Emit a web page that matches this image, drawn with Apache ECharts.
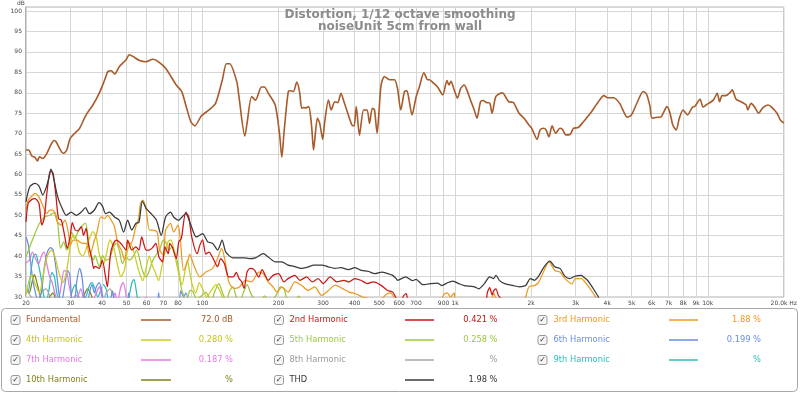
<!DOCTYPE html>
<html><head><meta charset="utf-8">
<script src="https://cdn.jsdelivr.net/npm/echarts@6/dist/echarts.min.js"></script>
<style>html,body{margin:0;padding:0;background:#fff}#c{width:800px;height:393px}</style>
</head><body><div id="c"></div>
<script>
// ---------- DATA ----------
const titleLines = ['Distortion, 1/12 octave smoothing', 'noiseUnit 5cm from wall'];
const yTicks = [30,35,40,45,50,55,60,65,70,75,80,85,90,95,100];
const xGridLines = [20,30,40,50,60,70,80,90,100,200,300,400,500,600,700,800,900,1000,2000,3000,4000,5000,6000,7000,8000,9000,10000];
const xLabelValues = [20,30,40,50,60,70,80,100,200,300,400,500,600,700,900,1000,2000,3000,4000,5000,6000,7000,8000,9000,10000,20000];
const xLabelTexts = ['20','30','40','50','60','70','80','100','200','300','400','500','600','700','900','1k','2k','3k','4k','5k','6k','7k','8k','9k','10k','20.0k Hz'];

const fundamental = [[20,66.0],[20.5,66.0],[21.1,64.5],[21.7,64.2],[22.2,63.3],[22.6,64.3],[23.3,63.9],[24.1,65.0],[25.2,67.5],[25.8,68.3],[26.3,68.0],[27.6,65.6],[28.2,65.2],[29.0,66.0],[29.9,68.8],[31.2,70.1],[32.6,71.3],[34.6,74.6],[36.8,77.0],[39.0,79.9],[41.0,83.2],[42.2,85.2],[43.5,85.4],[44.9,84.6],[46.8,86.4],[49.8,88.1],[51.3,89.3],[53.0,88.9],[56.2,87.9],[59.7,87.6],[63.5,88.2],[66.1,87.8],[71.4,86.0],[78.7,81.9],[82.7,80.3],[85.8,77.0],[89.9,72.9],[93.2,71.9],[98.8,74.3],[106,75.8],[112.6,77.4],[119.8,83.2],[124.3,87.1],[128,87.1],[136.5,82.8],[139.3,79.1],[147,69.4],[150,72.5],[156.5,79.1],[162,78.2],[171,81.4],[175.8,81.4],[182,79.9],[193.9,77.0],[201.6,70.1],[206,64.2],[210,70.1],[218.5,80.3],[224,80.5],[229,80.3],[236,82.6],[242,80.3],[247,76.2],[251,76.4],[256,76.3],[263,76.6],[270,72.1],[275,66.0],[278,68.4],[285,73.8],[291,72.5],[299,68.6],[304,72.5],[315,78.2],[323,75.8],[334,77.8],[343,77.6],[353,79.9],[363,77.8],[390,72.1],[398,71.9],[406,76.6],[418,69.6],[434,75.8],[448,75.8],[458,72.5],[470,76.2],[479,75.9],[491,70.1],[499,75.0],[509,81.9],[525,84.0],[550,83.2],[575,83.2],[591,81.1],[609,75.8],[630,80.3],[644,80.5],[657,78.2],[675,74.6],[701,79.1],[722,81.5],[752,84.9],[778,83.2],[790,83.2],[823,82.3],[852,81.4],[893,79.5],[928,83.0],[945,81.9],[963,82.8],[991,80.7],[1021,78.7],[1052,81.1],[1086,81.9],[1117,80.4],[1150,78.2],[1190,75.8],[1220,73.8],[1260,77.8],[1290,78.1],[1330,77.6],[1370,77.5],[1400,75.0],[1450,79.1],[1540,80.0],[1580,79.1],[1630,77.8],[1700,77.6],[1790,75.0],[1870,73.8],[1960,72.1],[2010,71.3],[2110,68.6],[2170,70.9],[2240,71.3],[2290,70.9],[2350,69.2],[2420,71.9],[2500,70.1],[2600,71.3],[2660,71.0],[2740,69.7],[2850,69.8],[2940,71.3],[3070,71.5],[3220,72.9],[3340,74.1],[3460,75.3],[3690,77.8],[3880,79.3],[4020,78.8],[4240,78.8],[4480,77.4],[4810,74.0],[4990,74.6],[5270,77.8],[5550,80.3],[5720,79.7],[5900,76.8],[6020,73.8],[6350,74.0],[6530,74.1],[6900,76.6],[7090,75.0],[7270,72.1],[7500,70.9],[7720,73.8],[7980,75.8],[8320,74.6],[8680,76.4],[8900,76.7],[9320,78.4],[9580,76.5],[9840,77.0],[10520,78.2],[10900,79.9],[11140,77.8],[11390,79.3],[11800,79.3],[12340,80.3],[12500,80.7],[12950,78.4],[13550,77.8],[14200,77.0],[14400,75.8],[14850,77.4],[15300,76.6],[15900,75.0],[16500,76.3],[17300,77.0],[17800,76.6],[18800,75.0],[19400,73.3],[20000,72.6]];

const thd = [[20,53.3],[20.7,57.0],[21.7,57.8],[22.5,57.2],[23.3,55.0],[24.1,57.0],[24.7,59.4],[25.1,61.3],[25.6,59.8],[26.7,54.5],[28.0,51.3],[28.9,50.0],[30.2,50.8],[31.6,50.0],[33.1,50.8],[34.4,51.9],[35.6,50.4],[37.3,51.3],[38.9,53.1],[40.2,52.2],[41.3,50.4],[42.8,50.8],[44.8,49.6],[46.8,48.8],[48.7,45.9],[50.5,48.8],[52.5,46.4],[54.4,48.0],[56,48.3],[57.8,53.5],[59.8,51.7],[62.6,50.4],[65.7,48.8],[68.6,45.1],[71.4,49.6],[74.7,50.8],[76.8,49.6],[80.5,48.8],[82.9,49.6],[85.8,50.4],[89.9,47.6],[94.5,44.7],[100,45.5],[104.8,43.5],[109.7,43.1],[114.8,41.5],[119.5,43.9],[123.6,41.0],[131.8,39.6],[139,39.6],[146,39.6],[153,39.4],[162,39.6],[174,40.6],[182,39.8],[194,38.6],[206,38.6],[218,37.8],[230,37.5],[246,37.0],[260,37.3],[276,37.8],[297,37.8],[314,37.4],[334,37.0],[353,37.2],[378,36.7],[401,37.2],[426,36.5],[452,36.3],[481,35.7],[512,36.1],[543,35.7],[566,35.3],[584,34.5],[591,34.1],[637,34.9],[678,34.0],[700,34.3],[745,33.0],[788,33.2],[850,33.4],[885,32.8],[932,33.5],[978,33.9],[1040,33.2],[1086,32.8],[1190,32.5],[1240,32.0],[1303,33.2],[1370,34.9],[1420,34.5],[1450,35.3],[1500,34.0],[1580,33.2],[1700,32.8],[1790,32.5],[1900,32.8],[1985,34.5],[2060,34.1],[2140,35.1],[2250,37.4],[2370,38.8],[2480,37.4],[2600,37.0],[2720,35.1],[2840,34.5],[2990,35.1],[3160,35.3],[3220,34.9],[3340,34.1],[3460,32.8],[3560,31.6],[3690,30.0],[3760,28.8],[3800,25]];

const h2 = [[20,48.4],[20.4,52.9],[21.1,53.9],[21.7,54.1],[22.5,52.9],[22.8,50.0],[23.1,47.6],[23.6,49.2],[24.1,54.5],[24.7,59.8],[25.1,60.8],[25.6,60.3],[26.3,54.5],[26.9,49.2],[27.6,48.8],[28.5,44.7],[29.1,41.9],[29.9,44.7],[30.5,48.2],[31.3,46.4],[32,46.2],[33.1,47.2],[33.8,45.1],[34.6,46.8],[35.3,43.1],[36.3,39.8],[37.1,37.0],[37.5,37.5],[39,37.0],[40.1,39.0],[41.3,34.9],[42,32.5],[42.8,38.0],[43.5,41.5],[45.5,43.9],[47.5,43.1],[49.8,41.5],[50.5,43.9],[52.5,41.5],[54.4,42.3],[56,41.5],[57.4,44.7],[59.8,41.5],[61.4,41.5],[63.4,42.1],[65.3,43.1],[67.2,39.8],[69.4,38.6],[70.9,42.3],[73.2,40.6],[74.1,43.1],[75.8,42.3],[78.7,39.4],[80.5,43.5],[82.4,44.3],[85.8,50.8],[88.2,49.6],[90.6,44.7],[95.2,40.6],[97.6,42.7],[100,44.0],[103,40.5],[106,41.0],[110,39.5],[114.6,37.4],[118,39.4],[122,38.2],[124,36.5],[127,34.9],[132,34.9],[136,36.0],[139.5,34.5],[143,33.7],[146,32.1],[150,36.1],[154,37.0],[160,36.7],[167,34.9],[172,36.7],[182,34.1],[190,35.3],[200,35.7],[210,33.7],[218,34.5],[232,35.3],[243,34.1],[258,34.9],[272,33.7],[287,34.5],[300,33.3],[320,34.9],[340,33.7],[363,34.1],[380,33.7],[400,34.5],[423,34.1],[450,33.3],[475,33.7],[508,32.9],[540,31.6],[566,31.2],[585,29.6],[600,28],[625,30.3],[640,30.8],[655,28],[700,26],[1300,26],[1340,31],[1370,32.3],[1400,30.5],[1420,31.5],[1450,32.0],[1480,30.5],[1520,29.5],[1560,27]];

const h3 = [[20,51.3],[20.4,53.7],[21.1,54.7],[21.7,55.4],[22.5,54.5],[23.4,52.1],[24.1,50.4],[24.9,51.3],[25.6,51.3],[26.6,48.4],[27.6,47.6],[28.5,48.8],[29.3,46.4],[30,42.7],[30.7,43.9],[31.9,43.9],[32.6,43.5],[33.6,43.1],[34.7,43.1],[35.7,39.8],[37,43.1],[38.2,45.9],[39.6,49.6],[40.9,49.2],[42.1,50.0],[43.5,48.8],[44.8,47.2],[46.2,43.1],[47.7,41.5],[49.2,39.0],[50.5,43.5],[52.1,43.1],[54.4,47.2],[55.8,49.2],[56.8,52.9],[58.1,53.7],[59.8,51.3],[61.6,46.4],[63.4,46.4],[66.1,45.9],[67.6,41.5],[69.9,40.3],[71.4,46.4],[74.7,48.0],[76.8,45.9],[80,47.6],[81.7,43.9],[84.1,36.5],[87.6,39.0],[88.9,40.5],[92.3,37.8],[97.6,34.9],[100,35.3],[103,36.1],[109.7,37.0],[114.6,39.4],[119,41.9],[123,38.6],[127,33.7],[133,32.1],[139,32.3],[148,34.1],[156,33.7],[167,36.1],[174,35.7],[182,33.7],[190,32.5],[197,31.2],[206,32.5],[218,31.2],[232,33.7],[246,32.9],[262,31.6],[278,32.5],[296,30.4],[315,31.6],[335,32.9],[357,32.1],[380,31.2],[403,30.8],[430,30.0],[455,29.6],[490,28.5],[530,30.5],[550,31.0],[566,30.5],[600,28],[860,28],[900,30.5],[930,31.0],[960,30.0],[990,31.0],[1010,29],[1380,29],[1420,31.0],[1460,29.5],[1850,28.5],[1900,30.0],[1960,32.5],[2060,32.8],[2140,33.6],[2250,36.5],[2350,38.6],[2480,36.5],[2600,36.1],[2720,34.5],[2900,33.2],[2990,34.5],[3160,34.5],[3220,34.1],[3380,32.5],[3530,30.8],[3620,29.6],[3700,27]];

const h4 = [[20,30.5],[21,35.5],[21.8,33],[22.6,31],[23.5,36],[24.3,40],[25.2,41.5],[26,40],[27,36],[28,33.5],[29,36.5],[30.3,44.5],[31.2,45],[32.5,41],[33.5,40],[34.5,41.5],[35.5,44],[36.8,46],[38,44.5],[39,40.5],[40.5,38],[41.8,41],[43,44],[44.5,42],[46,38],[47.5,35],[49,36.5],[50.5,41.5],[52,43],[53.5,41],[55,38],[56.5,35.5],[58,34],[59.5,36.5],[61.5,40],[63,38],[65,36],[67,34],[69,37.5],[71,41],[73,43.5],[75,44],[77,41.5],[79,38],[81,35],[83,33],[85,36],[87,39],[89,36],[91,33],[94,31],[97,33.5],[100,32],[104,30],[108,31.5],[113,33],[118,31],[122,28.5]];

const h5 = [[20,39.8],[20.7,42.3],[21.7,45.5],[22.6,48.0],[23.7,49.6],[24.9,50.0],[26,50.8],[26.7,48.0],[27.4,41.9],[28.2,43.5],[29,41.5],[29.6,42.3],[30.3,45.9],[31.2,44.3],[32.1,45.9],[33.6,47.6],[34.4,48.0],[35,45.9],[35.7,41.5],[37,39.0],[37.5,40.2],[39,37.4],[40.2,40.2],[41.3,39.0],[42.8,39.4],[44.2,41.9],[45.5,43.1],[46.8,41.5],[48.2,38.2],[49.8,39.8],[51.3,39.0],[53,39.8],[54.9,41.5],[56.5,39.0],[57.8,36.5],[59.8,34.9],[61.6,36.5],[63.5,39.0],[65.3,40.2],[67.6,41.5],[69.9,43.9],[71.4,43.5],[73.5,41.5],[75.8,42.3],[78.7,39.8],[80.5,36.5],[82.2,32.5],[84,30.4],[86,28.5],[88.9,31.5],[90.6,31.6],[95,29.5],[100,30.5],[103,31.2],[108,29],[112,31.5],[116,33.3],[120,31],[124,29],[128,31.5],[132,32.5],[136,30],[140,29],[146,31.5],[150,33.0],[155,31],[160,29.5],[168,28.5],[176,30.3],[184,29],[196,30.5],[203,32.5],[210,32.0],[216,29.5],[225,28],[240,30.2],[250,28]];

const h6 = [[20,44.7],[20.4,43],[20.8,39],[21.3,34],[21.8,31],[22.3,29],[23,31],[23.6,37],[24.3,41],[25,42.1],[25.6,41.5],[26.3,37],[27,31],[27.6,28.5],[28.5,33],[29.2,36.5],[29.8,35.5],[30.4,29],[31,28.5],[31.8,34],[32.6,37],[33.3,35],[34,30],[34.8,28],[35.8,31.5],[36.5,33],[37.3,31],[38,32.5],[39,33.5],[40,31],[41,28.5],[43,29],[44,31.5],[45,29],[50,28.5],[51,31],[52,28],[66,28],[67,31],[68,29],[80,28.5],[82,31.5],[84,30],[86,31],[88,28]];

const h7 = [[20,38.3],[20.6,39],[21.2,41],[21.8,39.5],[22.4,38],[23,40],[23.6,41],[24.2,38],[24.8,35],[25.4,33.5],[26,31],[26.8,29],[27.6,33],[28.3,36.5],[29,36],[29.6,33],[30.3,30],[31,28.5],[32,30],[33,32],[34,29],[36,28.5],[38,31],[39,32.5],[40,30],[41,28.5],[44,29],[45,31],[46,29],[47.5,32.5],[48.5,33.5],[49.5,31.5],[50.5,28.5],[55,28],[60,30],[61,28]];

const h8 = [[20,32],[21,30],[22,29],[23,31],[24,32],[25,30],[26,28.5],[30,28.5],[31.5,30.5],[33,29],[40,28.5],[41.5,31],[43,32],[44.5,30],[46,28.5],[55,28.5],[56,30],[57,28.5]];

const h9 = [[20,33],[20.4,31],[20.9,36],[21.4,40],[21.9,40.5],[22.4,38],[22.9,35],[23.4,31],[24,28.5],[24.7,32],[25.3,36],[25.9,35],[26.5,31],[27.2,29],[28,28.5],[29.5,28.5],[30.5,31.5],[31.3,33],[32,31],[33,29],[34.5,30],[35.5,32.5],[36.5,33.5],[37.5,32],[38.5,30],[39.5,31.5],[40.5,33],[41.5,32],[42.5,29],[44,28.5],[50,28.5],[51.5,31],[52.5,33.5],[53.5,34.3],[54.5,32],[55.5,29],[57,28]];

const h10 = [[20,33],[20.6,31],[21.2,34],[21.6,35.5],[22,34],[22.6,31],[23.2,29],[24,28.5],[24.8,30],[25.6,31],[26.3,29],[27,28.5],[33,28.5],[34,30.5],[35,32],[36,31],[37,29],[38,28.5]];

const legendNames  = ['Fundamental','2nd Harmonic','3rd Harmonic','4th Harmonic','5th Harmonic','6th Harmonic','7th Harmonic','8th Harmonic','9th Harmonic','10th Harmonic','THD'];
const legendValues = ['72.0 dB','0.421 %','1.88 %','0.280 %','0.258 %','0.199 %','0.187 %','%','%','%','1.98 %'];

// ---------- STYLE ----------
const colors = {
  'Fundamental':'#a85a28','2nd Harmonic':'#cc1616','3rd Harmonic':'#eb9a20','4th Harmonic':'#cccc1e',
  '5th Harmonic':'#9cc83a','6th Harmonic':'#6a8ee0','7th Harmonic':'#e47ae4','8th Harmonic':'#a8a8a8',
  '9th Harmonic':'#2cbcbc','10th Harmonic':'#80801a','THD':'#3a3a3a'
};
const textColors = Object.assign({}, colors, {'8th Harmonic':'#999999','THD':'#333333','4th Harmonic':'#c4c41e'});
const seriesData = {
  'Fundamental':fundamental,'2nd Harmonic':h2,'3rd Harmonic':h3,'4th Harmonic':h4,'5th Harmonic':h5,
  '6th Harmonic':h6,'7th Harmonic':h7,'8th Harmonic':h8,'9th Harmonic':h9,'10th Harmonic':h10,'THD':thd
};
const drawOrder = ['10th Harmonic','9th Harmonic','8th Harmonic','7th Harmonic','6th Harmonic','5th Harmonic','4th Harmonic','3rd Harmonic','2nd Harmonic','THD','Fundamental'];

const chart = echarts.init(document.getElementById('c'), null, {renderer:'canvas'});

const series = [{
  type:'line', data:[[20,30]], symbol:'none', silent:true, z:1,
  lineStyle:{opacity:0},
  markLine:{silent:true, symbol:['none','none'], label:{show:false},
    lineStyle:{color:'#d6d6d6', type:'solid', width:1},
    data: xGridLines.map(v => ({xAxis:v}))}
}];
drawOrder.forEach((name, i) => {
  series.push({
    name, type:'line', data:seriesData[name], symbol:'none', smooth:0.25, clip:true,
    z: 2 + i, silent:true, animation:false,
    lineStyle:{color:colors[name], width: name==='Fundamental' ? 1.6 : 1.25}
  });
});

// legend + title graphics
const colCheck = [10.5, 274, 537.5], colName = [26, 289.5, 553.5];
const colLine0 = [141, 405, 669], colLine1 = [171, 434, 698], colVal = [233, 497.5, 761];
const graphics = [{
  type:'rect', shape:{x:1.5, y:308.5, width:796, height:83, r:4},
  style:{fill:'#fff', stroke:'#a8a8a8', lineWidth:1}, z:0
},{
  type:'text', left: 17, top: 0, style:{text:'dB', fontSize:6, fill:'#444', fontFamily:'DejaVu Sans'}
}];
titleLines.forEach((t, i) => {
  graphics.push({type:'text', x:400, y:14.5 + 12.5*i, z:100,
    style:{text:t, fontSize:12, fontWeight:'bold', fill:'#8c8c8c', align:'center', verticalAlign:'middle', fontFamily:'DejaVu Sans'}});
});
legendNames.forEach((name, i) => {
  const r = Math.floor(i/3), c = i%3, y = 320 + 20*r;
  graphics.push({type:'rect', shape:{x:colCheck[c]+0.5, y:y-4.5, width:9, height:9, r:2},
    style:{fill:'#f4f4f4', stroke:'#9a9a9a', lineWidth:1}});
  graphics.push({type:'text', x:colCheck[c]+5, y:y, style:{text:'\u2713', fontSize:8, fill:'#333',
    align:'center', verticalAlign:'middle', fontFamily:'DejaVu Sans'}});
  graphics.push({type:'text', x:colName[c], y:y, style:{text:name, fontSize:8.3, fill:textColors[name],
    align:'left', verticalAlign:'middle', fontFamily:'DejaVu Sans'}});
  graphics.push({type:'line', shape:{x1:colLine0[c], y1:y, x2:colLine1[c], y2:y},
    style:{stroke:colors[name], lineWidth:1.5}});
  graphics.push({type:'text', x:colVal[c], y:y, style:{text:legendValues[i], fontSize:8.3, fill:textColors[name],
    align:'right', verticalAlign:'middle', fontFamily:'DejaVu Sans'}});
});

chart.setOption({
  animation:false,
  backgroundColor:'#fff',
  grid:{left:26, right:12, top:7, bottom:96, show:true, borderColor:'#b4b4b4', borderWidth:1, backgroundColor:'#fff'},
  xAxis:{type:'log', logBase:10, min:20, max:20000,
    axisLine:{show:false}, axisTick:{show:false},
    splitLine:{show:false}, minorSplitLine:{show:false},
    axisLabel:{customValues:xLabelValues, fontSize:6, color:'#444', margin:3, fontFamily:'DejaVu Sans',
      formatter: v => { const k = xLabelValues.findIndex(x => Math.abs(x - v) < 1e-6*x); return k>=0 ? xLabelTexts[k] : ''; }}
  },
  yAxis:{type:'value', min:30, max:101, interval:5,
    axisLine:{show:true, lineStyle:{color:'#a0a0a0', width:1.5}}, axisTick:{show:false},
    splitLine:{show:true, lineStyle:{color:'#d6d6d6', width:1}},
    axisLabel:{fontSize:6, color:'#444', margin:4, showMaxLabel:false, fontFamily:'DejaVu Sans',
      formatter: v => yTicks.includes(v) ? String(v) : ''}
  },
  graphic: graphics,
  series
});
</script></body></html>
